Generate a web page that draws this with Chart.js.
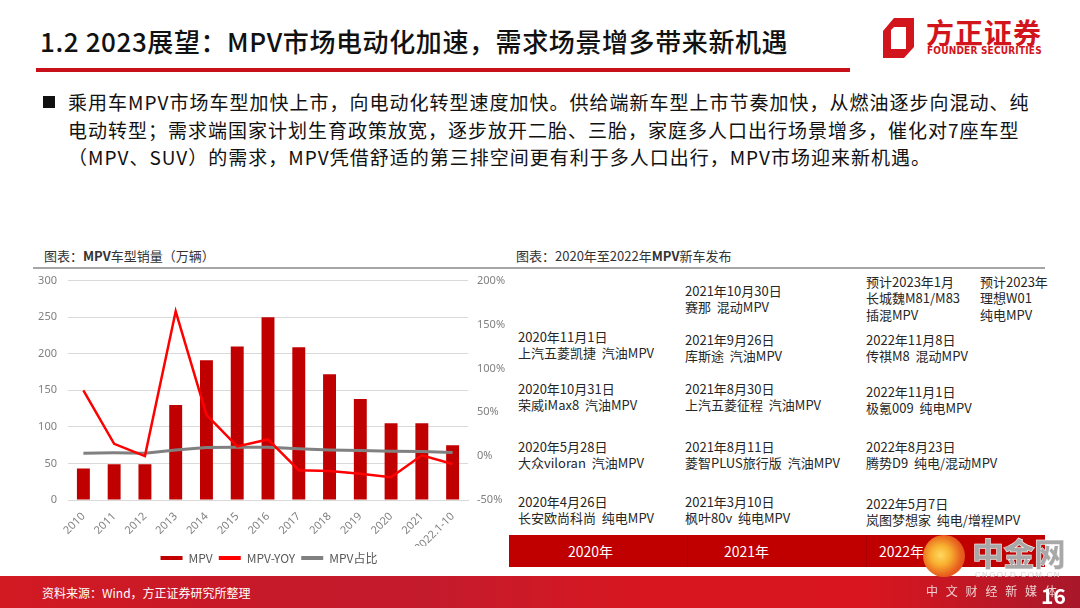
<!DOCTYPE html>
<html>
<head>
<meta charset="utf-8">
<script src="https://cdn.jsdelivr.net/npm/chart.js@4.4.1/dist/chart.umd.min.js"></script>
<style>
    body { margin: 0; width: 1080px; height: 608px; position: relative; overflow: hidden; background: #fff;
           font-family: "Noto Sans CJK SC", sans-serif; color: #222; }
    .abs { position: absolute; white-space: nowrap; }
    .title { left: 40px; top: 22px; font-size: 26px; font-weight: 500; color: #111; letter-spacing: 0.6px; }
    .redline { left: 36px; top: 68px; width: 814px; height: 4px; background: #c8101a; }
    .bullet { left: 68px; top: 88px; font-size: 19px; line-height: 27.5px; color: #111; letter-spacing: 1px; }
    .sq { left: 43px; top: 96px; width: 12px; height: 12px; background: #111; }
    .cap { font-size: 13px; color: #333; top: 246px; }
    .rule { top: 267px; height: 2px; background: #a6a6a6; }
    .cell { font-size: 13px; line-height: 16.4px; color: #262626; }
    .bar { left: 509px; top: 535px; width: 536px; height: 32px; background: #c00000; }
    .div { top: 535px; width: 1px; height: 32px; background: #a80000; }
    .yr { top: 541px; font-size: 14px; color: #fff; }
    .footer { left: 0; top: 576px; width: 1080px; height: 32px;
              background: linear-gradient(90deg, #d21a22 0%, #c6192a 25%, #c41b2c 40%, #d8161f 60%, #d9161f 80%, #a8182a 100%); }
    .src { left: 42px; top: 584px; font-size: 12px; color: #fff; }
    .page { left: 1041px; top: 580px; font-size: 21px; font-weight: 700; color: #fff; }
    #wrap { position: absolute; left: 30px; top: 263px; width: 480px; height: 311px; }
</style>
</head>
<body>
<div class="abs title">1.2 2023展望：MPV市场电动化加速，需求场景增多带来新机遇</div>
<div class="abs redline"></div>

<!-- logo -->
<svg class="abs" style="left:880px;top:16px" width="40" height="44" viewBox="0 0 40 44">
    <path d="M3 15 L14 2 L34 2 L34 31 L24 42 L3 42 Z M11 14 L11 33 L26 33 L26 11 L14 11 Z" fill="#d2141c" fill-rule="evenodd"/>
</svg>
<div class="abs" style="left:926px;top:12px;font-size:28px;font-weight:700;color:#d2141c;letter-spacing:1px">方正证券</div>
<div class="abs" style="left:927px;top:45px;font-size:10px;font-weight:700;color:#d2141c;font-family:'DejaVu Sans Condensed','Liberation Sans Narrow',sans-serif;letter-spacing:0.2px">FOUNDER SECURITIES</div>

<div class="abs sq"></div>
<div class="abs bullet">乘用车MPV市场车型加快上市，向电动化转型速度加快。供给端新车型上市节奏加快，从燃油逐步向混动、纯<br>电动转型；需求端国家计划生育政策放宽，逐步放开二胎、三胎，家庭多人口出行场景增多，催化对7座车型<br>（MPV、SUV）的需求，MPV凭借舒适的第三排空间更有利于多人口出行，MPV市场迎来新机遇。</div>

<div class="abs cap" style="left:44px">图表：<b>MPV</b>车型销量（万辆）</div>
<div class="abs rule" style="left:33px;width:474px"></div>
<div id="wrap"><canvas id="mpvChart"></canvas></div>

<div class="abs cap" style="left:516px">图表：2020年至2022年<b>MPV</b>新车发布</div>
<div class="abs rule" style="left:505px;width:540px"></div>
<div id="releases"></div>

<div class="abs bar"></div>
<div class="abs div" style="left:687px"></div>
<div class="abs div" style="left:866px"></div>
<div class="abs yr" style="left:568px">2020年</div>
<div class="abs yr" style="left:724px">2021年</div>
<div class="abs yr" style="left:879px">2022年</div>

<div class="abs footer"></div>
<div class="abs src">资料来源：Wind，方正证券研究所整理</div>

<!-- watermark -->
<div class="abs" style="left:923px;top:535px;width:42px;height:42px;border-radius:50%;background:radial-gradient(circle at 42% 48%, #ffd860 0%, #f7b030 30%, #e8601e 62%, #d8361c 100%)"></div>
<div class="abs" style="left:972px;top:529px;font-size:32px;font-weight:900;color:#a8a8a8;letter-spacing:-1px;-webkit-text-stroke:0.5px #fff">中金网</div>
<div class="abs" style="left:975px;top:570px;font-size:8px;color:#d4d4d4;font-family:'Liberation Sans',sans-serif;letter-spacing:1.3px">CNGOLD.COM.CN</div>
<div class="abs" style="left:926px;top:582px;font-size:12px;color:#f0d0d0;letter-spacing:7.8px">中文财经新媒体</div>
<div class="abs page">16</div>

<script>
const years = ['2010', '2011', '2012', '2013', '2014', '2015', '2016', '2017', '2018', '2019', '2020', '2021', '2022.1-10'];
const mpvSales = [43, 49, 49, 130, 191, 210, 250, 209, 172, 138, 105, 105, 75];
const mpvYoy = [75, 14, 0, 165, 47, 11, 19, -16, -17, -20, -24, 1, -9];
const mpvShare = [3.4, 3.7, 3.4, 7, 9.8, 10, 10, 8.3, 7, 6.4, 5.6, 5.3, 4];

// release table: [x, first line centre y, lines]
const releases = [
    [518, 337, ['2020年11月1日', '上汽五菱凯捷  汽油MPV']],
    [518, 389, ['2020年10月31日', '荣威iMax8  汽油MPV']],
    [518, 447, ['2020年5月28日', '大众viloran  汽油MPV']],
    [518, 502, ['2020年4月26日', '长安欧尚科尚  纯电MPV']],
    [685, 291, ['2021年10月30日', '赛那  混动MPV']],
    [685, 340, ['2021年9月26日', '库斯途  汽油MPV']],
    [685, 389, ['2021年8月30日', '上汽五菱征程  汽油MPV']],
    [685, 447, ['2021年8月11日', '菱智PLUS旅行版  汽油MPV']],
    [685, 502, ['2021年3月10日', '枫叶80v  纯电MPV']],
    [866, 282, ['预计2023年1月', '长城魏M81/M83', '插混MPV']],
    [980, 282, ['预计2023年', '理想W01', '纯电MPV']],
    [866, 340, ['2022年11月8日', '传祺M8  混动MPV']],
    [866, 392, ['2022年11月1日', '极氪009  纯电MPV']],
    [866, 447, ['2022年8月23日', '腾势D9  纯电/混动MPV']],
    [866, 504, ['2022年5月7日', '岚图梦想家  纯电/增程MPV']]
];

const box = document.getElementById('releases');
releases.forEach(([x, y, lines]) => {
    const el = document.createElement('div');
    el.className = 'abs cell';
    el.style.left = x + 'px';
    el.style.top = (y - 8) + 'px';
    el.style.whiteSpace = 'pre';
    el.textContent = lines.join('\n');
    box.appendChild(el);
});

const tickFont = { family: '"Noto Sans", sans-serif', size: 11 };

new Chart(document.getElementById('mpvChart'), {
    type: 'bar',
    data: {
        labels: years,
        datasets: [
            {
                label: 'MPV',
                data: mpvSales,
                backgroundColor: '#c00000',
                categoryPercentage: 1,
                barPercentage: 0.42,
                yAxisID: 'y',
                order: 3
            },
            {
                type: 'line',
                label: 'MPV-YOY',
                data: mpvYoy,
                borderColor: '#ff0000',
                backgroundColor: '#ff0000',
                borderWidth: 2.5,
                pointRadius: 0,
                tension: 0,
                yAxisID: 'y1',
                order: 1
            },
            {
                type: 'line',
                label: 'MPV占比',
                data: mpvShare,
                borderColor: '#808080',
                backgroundColor: '#808080',
                borderWidth: 3,
                pointRadius: 0,
                tension: 0,
                yAxisID: 'y1',
                order: 2
            }
        ]
    },
    options: {
        responsive: true,
        maintainAspectRatio: false,
        animation: false,
        layout: { padding: { top: 3, left: 0, right: 2, bottom: 0 } },
        plugins: {
            tooltip: { enabled: false },
            legend: {
                position: 'bottom',
                labels: {
                    color: '#595959',
                    font: { family: '"Noto Sans CJK SC", sans-serif', size: 12 },
                    boxWidth: 22,
                    boxHeight: 4,
                    padding: 6,
                    sort: (a, b) => a.datasetIndex - b.datasetIndex,
                    generateLabels(chart) {
                        return Chart.defaults.plugins.legend.labels.generateLabels(chart).map(item => {
                            item.fillStyle = chart.data.datasets[item.datasetIndex].backgroundColor;
                            item.lineWidth = 0;
                            return item;
                        });
                    }
                }
            }
        },
        scales: {
            x: {
                grid: { display: false },
                border: { color: '#d9d9d9' },
                ticks: { color: '#808080', font: tickFont, minRotation: 45, maxRotation: 45, padding: 2 },
                afterFit(scale) { scale.height = 46; }
            },
            y: {
                position: 'left',
                min: 0, max: 300,
                ticks: { stepSize: 50, color: '#808080', font: tickFont, padding: 11 },
                grid: { color: '#d9d9d9', drawTicks: false },
                border: { display: false },
                afterFit(scale) { scale.width = 38; }
            },
            y1: {
                position: 'right',
                min: -50, max: 200,
                ticks: { stepSize: 50, color: '#808080', font: tickFont, padding: 9, callback: v => v + '%' },
                grid: { display: false, drawTicks: false },
                border: { display: false },
                afterFit(scale) { scale.width = 40; }
            }
        }
    }
});
</script>
</body>
</html>
